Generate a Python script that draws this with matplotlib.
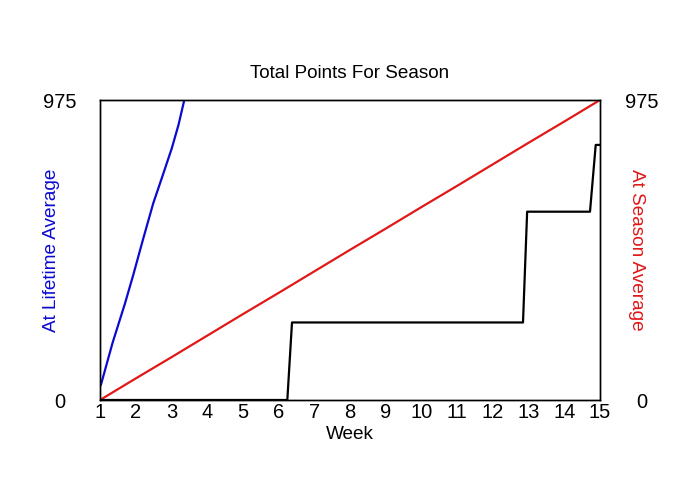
import matplotlib
matplotlib.use("Agg")
import matplotlib.pyplot as plt

plt.rcParams['font.family'] = ['Liberation Sans', 'DejaVu Sans']

# Data
weeks = [1, 2, 3, 4, 5, 6, 7, 8, 9, 10, 11, 12, 13, 14, 15]
week_labels = [str(w) for w in weeks]

lifetime_x = [1.0, 1.03, 1.35, 1.70, 1.93, 2.2, 2.49, 2.75, 3.01, 3.2, 3.36, 3.45]
lifetime_y = [45, 51, 185, 314, 406, 520, 639, 728, 818, 895, 975, 1010]

season_x = [1, 2, 3, 4, 5, 6, 7, 8, 9, 10, 11, 12, 13, 14, 15]
season_y = [0, 70, 139, 209, 279, 348, 418, 488, 557, 627, 696, 766, 836, 905, 975]

actual_x = [1, 6.245, 6.376, 12.844, 12.96, 14.72, 14.88, 15]
actual_y = [0, 0, 252, 252, 612, 612, 829, 829]

ytick_vals = [0, 975]
ytick_labels = ['0', '975']

blue = '#0a0ad2'
red = '#e01818'

fig = plt.figure(figsize=(7, 5), dpi=100)
ax = fig.add_axes([100/700, 0.2, 500/700, 0.6])
ax2 = ax.twinx()

ax.plot(lifetime_x, lifetime_y, color=blue, lw=1.6)
ax2.plot(season_x, season_y, color=red, lw=1.6)
ax2.plot(actual_x, actual_y, color='black', lw=1.6)

for a in (ax, ax2):
    a.set_xlim(1, 15)
    a.set_ylim(0, 975)
    a.set_yticks(ytick_vals)
    for s in a.spines.values():
        s.set_linewidth(1.0)
        s.set_color('black')

ax.set_xticks(weeks)
ax.set_xticklabels(week_labels, fontsize=14.5)
ax.tick_params(axis='x', length=0, pad=2)
ax.set_yticklabels(ytick_labels, fontsize=14.5, ha='center')
ax.tick_params(axis='y', length=0, pad=29)
ax2.set_yticklabels(ytick_labels, fontsize=14.5, ha='center')
ax2.tick_params(axis='y', length=0, pad=30)

ax.set_xlabel('Week', fontsize=13.7, labelpad=3)
ax.set_title('Total Points For Season', fontsize=13.6, pad=16)
ax.set_ylabel('At Lifetime Average', color=blue, fontsize=13.7, labelpad=0)
ax.yaxis.set_label_coords(-40/500, 0.5)
ax2.set_ylabel('At Season Average', color=red, fontsize=13.7, rotation=-90, va='center')
ax2.yaxis.set_label_coords(1 + 37/500, 0.5)

fig.savefig('out.png', dpi=100)
